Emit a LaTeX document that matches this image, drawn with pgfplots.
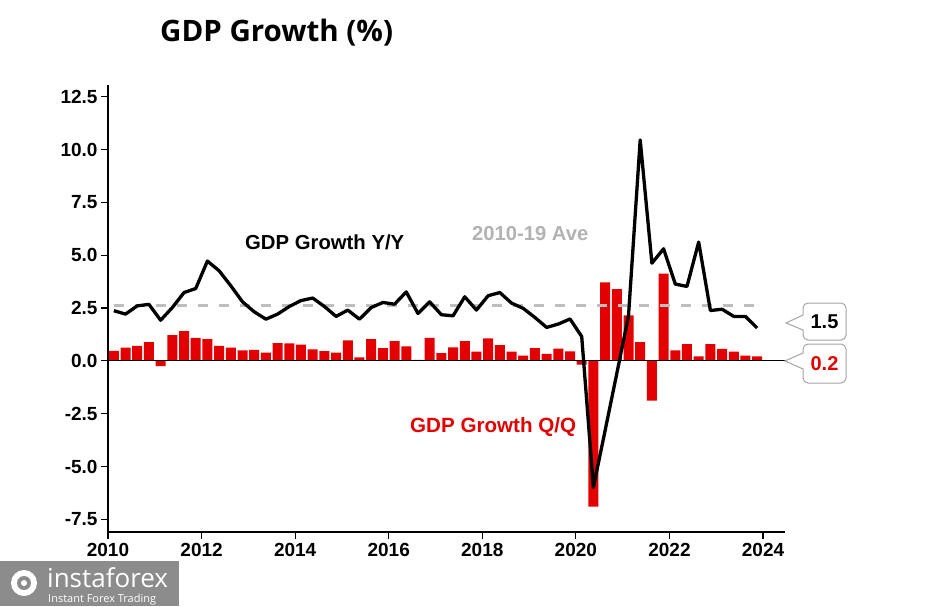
\documentclass[border=0pt]{standalone}
\usepackage{pgfplots}
\pgfplotsset{compat=1.18}
\usepackage{fontspec}
\setmainfont{Liberation Sans}
\newfontfamily\osans{Open Sans}
\definecolor{gdpred}{RGB}{226,0,0}
\definecolor{avegray}{RGB}{190,190,190}
\definecolor{avetext}{RGB}{178,178,178}
\definecolor{callgray}{RGB}{165,165,165}
\definecolor{logogray}{RGB}{140,140,140}

\pgfplotstableread{
x y
2010.125 0.47
2010.375 0.62
2010.625 0.71
2010.875 0.88
2011.125 -0.25
2011.375 1.21
2011.625 1.40
2011.875 1.09
2012.125 1.03
2012.375 0.71
2012.625 0.62
2012.875 0.49
2013.125 0.52
2013.375 0.39
2013.625 0.84
2013.875 0.82
2014.125 0.77
2014.375 0.54
2014.625 0.46
2014.875 0.39
2015.125 0.97
2015.375 0.16
2015.625 1.03
2015.875 0.60
2016.125 0.93
2016.375 0.68
2016.625 0.05
2016.875 1.09
2017.125 0.36
2017.375 0.63
2017.625 0.93
2017.875 0.44
2018.125 1.06
2018.375 0.74
2018.625 0.43
2018.875 0.25
2019.125 0.60
2019.375 0.33
2019.625 0.58
2019.875 0.45
2020.125 -0.18
2020.375 -6.90
2020.625 3.71
2020.875 3.39
2021.125 2.15
2021.375 0.88
2021.625 -1.88
2021.875 4.12
2022.125 0.49
2022.375 0.79
2022.625 0.21
2022.875 0.79
2023.125 0.57
2023.375 0.43
2023.625 0.24
2023.875 0.21
}\qoq

\pgfplotstableread{
x y
2010.125 2.37
2010.375 2.21
2010.625 2.60
2010.875 2.67
2011.125 1.92
2011.375 2.52
2011.625 3.23
2011.875 3.42
2012.125 4.72
2012.375 4.26
2012.625 3.55
2012.875 2.79
2013.125 2.32
2013.375 1.97
2013.625 2.21
2013.875 2.57
2014.125 2.85
2014.375 2.97
2014.625 2.57
2014.875 2.10
2015.125 2.40
2015.375 1.97
2015.625 2.52
2015.875 2.76
2016.125 2.68
2016.375 3.26
2016.625 2.24
2016.875 2.79
2017.125 2.18
2017.375 2.13
2017.625 3.03
2017.875 2.40
2018.125 3.08
2018.375 3.23
2018.625 2.73
2018.875 2.48
2019.125 2.05
2019.375 1.58
2019.625 1.74
2019.875 1.98
2020.125 1.15
2020.375 -5.98
2020.625 -3.30
2020.875 -0.60
2021.125 2.13
2021.375 10.45
2021.625 4.62
2021.875 5.30
2022.125 3.63
2022.375 3.52
2022.625 5.62
2022.875 2.38
2023.125 2.44
2023.375 2.10
2023.625 2.10
2023.875 1.55
}\yoy

\begin{document}
\begin{tikzpicture}[x=1pt,y=1pt]
\useasboundingbox (0,0) rectangle (931,606);
\begin{axis}[
  at={(108pt,74pt)}, anchor=south west,
  scale only axis, width=677pt, height=447pt,
  xmin=2010, xmax=2024.47, ymin=-8.1, ymax=13.05,
  axis x line*=bottom, axis y line*=left,
  axis line style={-, line width=1.3pt, black},
  xtick={2010,2012,...,2024},
  ytick={-7.5,-5,-2.5,0,2.5,5,7.5,10,12.5},
  tick align=outside, major tick length=7pt,
  tick style={black, line width=1.2pt},
  /pgf/number format/assume math mode=true,
  ticklabel style={font=\bfseries\fontsize{19}{19}\selectfont},
  xticklabel style={/pgf/number format/1000 sep={}, yshift=-1pt},
  yticklabel style={/pgf/number format/.cd, fixed, fixed zerofill, precision=1},
  clip=false,
]
\addplot[ybar, bar width=10pt, fill=gdpred, draw=none] table[x=x, y=y] {\qoq};
\addplot[black, line width=0.9pt] coordinates {(2010,0) (2024.47,0)};
\addplot[avegray, line width=3pt, dash pattern=on 10pt off 11pt] coordinates {(2010.125,2.6) (2023.875,2.6)};
\addplot[black, line width=3.3pt, line join=round] table[x=x, y=y] {\yoy};
\end{axis}

% title
\node[anchor=base west, inner sep=0pt, font=\osans\bfseries\fontsize{29.5}{29.5}\selectfont] at (160,564) {GDP Growth (\%)};
% labels
\node[anchor=base west, inner sep=0pt, font=\bfseries\fontsize{20.3}{20.3}\selectfont] at (245,356) {GDP Growth Y/Y};
\node[anchor=base west, inner sep=0pt, text=avetext, font=\bfseries\fontsize{20.2}{20.2}\selectfont] at (472,365) {2010-19 Ave};
\node[anchor=base west, inner sep=0pt, text=gdpred, font=\bfseries\fontsize{20.6}{20.6}\selectfont] at (410,174) {GDP Growth Q/Q};

% callouts
\draw[callgray, line width=1pt, fill=white] (786,283) -- (803,291) [rounded corners=5pt] -- (803,303) -- (846,303) -- (846,266) -- (803,266) [sharp corners] -- (803,276) -- cycle;
\node[font=\bfseries\fontsize{20}{20}\selectfont] at (824.5,284.5) {1.5};
\draw[callgray, line width=1pt, fill=white] (785,245) -- (803,253) [rounded corners=5pt] -- (803,262) -- (846,262) -- (846,223) -- (803,223) [sharp corners] -- (803,237) -- cycle;
\node[text=gdpred, font=\bfseries\fontsize{20}{20}\selectfont] at (824.5,242.5) {0.2};

% watermark
\fill[logogray] (0,0) rectangle (179,45);
\fill[white] (24,23) circle (13);
\fill[logogray] (24,23) circle (7);
\fill[white] (24,23) circle (3);
\node[anchor=base west, inner sep=0pt, text=white, font=\osans\fontsize{26}{26}\selectfont] at (47,19) {instaforex};
\node[anchor=base west, inner sep=0pt, text=white, font=\osans\fontsize{11}{11}\selectfont] at (48,3.3) {Instant Forex Trading};
\end{tikzpicture}
\end{document}
